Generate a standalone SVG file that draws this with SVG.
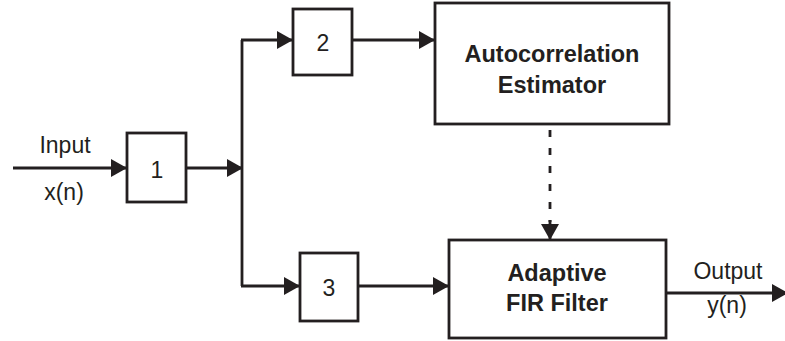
<svg xmlns="http://www.w3.org/2000/svg" width="785" height="341" viewBox="0 0 785 341">
<defs>
<style>
.box{fill:#fff;stroke:#231f20;stroke-width:2.8}
.ln{fill:none;stroke:#231f20;stroke-width:2.8}
.dash{fill:none;stroke:#231f20;stroke-width:2.8;stroke-dasharray:7 11}
.t{font-family:"Liberation Sans",Arial,sans-serif;font-size:23px;fill:#231f20;text-anchor:middle}
.b{font-family:"Liberation Sans",Arial,sans-serif;font-size:23.5px;font-weight:bold;fill:#231f20;text-anchor:middle}
</style>
<marker id="ah" viewBox="0 0 16 18" refX="16" refY="9" markerWidth="16" markerHeight="18" markerUnits="userSpaceOnUse" orient="auto">
<path d="M0,0 L16,9 L0,18 Z" fill="#231f20"/>
</marker>
</defs>
<rect width="785" height="341" fill="#fff"/>
<g id="connectors">
<line class="ln" x1="13" y1="168" x2="127" y2="168" marker-end="url(#ah)"/>
<line class="ln" x1="186" y1="168" x2="243" y2="168" marker-end="url(#ah)"/>
<line class="ln" x1="242" y1="40" x2="242" y2="286"/>
<line class="ln" x1="241" y1="40" x2="293" y2="40" marker-end="url(#ah)"/>
<line class="ln" x1="352" y1="40" x2="435" y2="40" marker-end="url(#ah)"/>
<line class="ln" x1="241" y1="286" x2="300" y2="286" marker-end="url(#ah)"/>
<line class="ln" x1="358" y1="286" x2="449" y2="286" marker-end="url(#ah)"/>
<line class="dash" x1="550" y1="130" x2="550" y2="222"/>
<line class="ln" x1="550" y1="220" x2="550" y2="240" stroke-width="0" marker-end="url(#ah)"/>
<line class="ln" x1="666" y1="293" x2="788" y2="293" marker-end="url(#ah)"/>
</g>
<g id="label-input"><text class="t" x="65" y="153">Input</text><text class="t" x="64" y="200">x(n)</text></g>
<g id="label-output"><text class="t" x="728" y="279">Output</text><text class="t" x="727" y="313">y(n)</text></g>
<g id="n1"><rect class="box" x="127" y="133" width="59" height="69"/><text class="t" x="157" y="178">1</text></g>
<g id="n2"><rect class="box" x="293" y="9" width="59" height="66"/><text class="t" x="323" y="51">2</text></g>
<g id="n3"><rect class="box" x="300" y="253" width="58" height="68"/><text class="t" x="329" y="296">3</text></g>
<g id="autocorr"><rect class="box" x="435" y="3" width="234" height="121"/><text class="b" x="552" y="62">Autocorrelation</text><text class="b" x="552" y="93">Estimator</text></g>
<g id="fir"><rect class="box" x="449" y="240" width="217" height="98"/><text class="b" x="557" y="281">Adaptive</text><text class="b" x="557" y="311">FIR Filter</text></g>
</svg>
